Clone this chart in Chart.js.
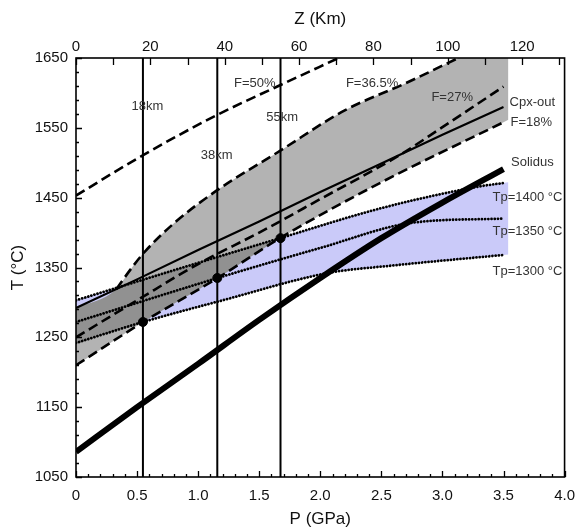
<!DOCTYPE html>
<html>
<head>
<meta charset="utf-8">
<script src="https://cdn.jsdelivr.net/npm/chart.js@4.4.1/dist/chart.umd.min.js"></script>
<style>
  html, body { margin: 0; padding: 0; background: #fff; }
  canvas { display: block; }
</style>
</head>
<body>
<canvas id="chart" width="585" height="530"></canvas>
<script>
// ==== Data (P in GPa, T in °C, Z in km) ====
const solidusP = [0, 0.5, 1, 1.5, 2, 2.5, 3, 3.5];
const solidusT = [1086, 1150, 1212, 1275, 1335, 1392, 1443, 1491];

const cpxOutP = [0, 0.5, 1, 1.5, 2, 2.5, 3, 3.5];
const cpxOutT = [1292, 1333, 1375, 1416, 1458, 1499, 1540, 1580];

const f18P = [0, 0.55, 1.16, 1.67, 2.5, 3.5];
const f18T = [1210, 1272, 1335, 1392, 1472, 1558];

const f27P = [0, 0.5, 1, 1.5, 2, 2.65, 3, 3.5];
const f27T = [1250, 1303, 1355, 1400, 1448, 1511, 1551, 1609];

const f365P = [0.33, 0.45, 0.55, 0.8, 1.15, 1.67, 2.2, 2.7, 3.13];
const f365T = [1319, 1348, 1370, 1413, 1460, 1517, 1575, 1614, 1650];

const f50P = [0, 0.55, 1.15, 1.67, 2.15];
const f50T = [1453, 1511, 1568, 1611, 1650];

const tp1400P = [0, 0.8, 1.67, 2.5, 3.3, 3.5];
const tp1400T = [1303, 1346, 1392, 1435, 1466, 1471];

const tp1350P = [0, 1.16, 2.0, 2.75, 3.5];
const tp1350T = [1272, 1335, 1378, 1414, 1420];

const tp1300P = [0, 0.55, 1.2, 2.06, 2.6, 3.5];
const tp1300T = [1242, 1272, 1303, 1342, 1353, 1368];

// depth markers (top axis) and the dots on them
const depthKm = [18, 38, 55];
const dotT = [1272, 1335, 1392];

// shaded fields stop a little right of the curves
const fillEndP = 3.54;

// text labels (P, T anchors)
const labelText = ['18km', '38km', '55km', 'F=50%', 'F=36.5%', 'F=27%', 'Cpx-out', 'F=18%', 'Solidus', 'Tp=1400 °C', 'Tp=1350 °C', 'Tp=1300 °C'];
const labelP = [0.584, 1.152, 1.688, 1.464, 2.424, 3.08, 3.736, 3.728, 3.736, 3.696, 3.696, 3.696];
const labelT = [1580, 1511, 1565, 1614, 1614, 1594, 1586, 1558, 1500, 1451, 1401, 1344];

// ==== helpers ====
const pts = (P, T) => P.map((p, i) => ({ x: p, y: T[i] }));
// carry the last segment on to the edge of the shaded field
function extended(P, T) {
  const n = P.length;
  const slope = (T[n - 1] - T[n - 2]) / (P[n - 1] - P[n - 2]);
  return pts(P, T).concat([{ x: fillEndP, y: T[n - 1] + slope * (fillEndP - P[n - 1]) }]);
}

const grayTop = [{ x: cpxOutP[0], y: cpxOutT[0] }].concat(extended(f365P, f365T));

// ==== plugins ====
// per-dataset blend mode, must run before the filler
const blendPlugin = {
  id: 'blend',
  beforeDatasetDraw(chart, args) {
    const mode = chart.data.datasets[args.index].blend;
    if (mode) { chart.ctx.save(); chart.ctx.globalCompositeOperation = mode; }
  },
  afterDatasetDraw(chart, args) {
    if (chart.data.datasets[args.index].blend) chart.ctx.restore();
  }
};
const filler = Chart.registry.getPlugin('filler');
Chart.unregister(filler);
Chart.register(blendPlugin, filler);

const framePlugin = {
  id: 'frame',
  beforeDraw(chart) {
    const ctx = chart.ctx;
    ctx.save();
    ctx.fillStyle = '#fff';
    ctx.fillRect(0, 0, chart.width, chart.height);
    ctx.restore();
  },
  afterDatasetsDraw(chart) {
    const ctx = chart.ctx;
    const sx = chart.scales.x, sy = chart.scales.y;
    ctx.save();
    ctx.fillStyle = '#333';
    ctx.font = '13px "Liberation Sans", Arial, sans-serif';
    ctx.textAlign = 'center';
    ctx.textBaseline = 'middle';
    labelText.forEach((t, i) => {
      ctx.fillText(t, sx.getPixelForValue(labelP[i]), sy.getPixelForValue(labelT[i]));
    });
    ctx.restore();
  },
  afterDraw(chart) {
    const ctx = chart.ctx;
    const a = chart.chartArea;
    const sx = chart.scales.x, sy = chart.scales.y, sz = chart.scales.x2;
    ctx.save();
    ctx.strokeStyle = '#000';
    ctx.lineWidth = 1.3;
    ctx.beginPath();
    // bottom: minor every 0.1, major every 0.5
    for (let i = 0; i <= 40; i++) {
      const x = Math.round(sx.getPixelForValue(i / 10)) + 0.5;
      const len = i % 5 === 0 ? 6 : 3;
      ctx.moveTo(x, a.bottom); ctx.lineTo(x, a.bottom - len);
    }
    // top: every 10 km
    for (let z = 0; z <= 130; z += 10) {
      const x = Math.round(sz.getPixelForValue(z)) + 0.5;
      ctx.moveTo(x, a.top); ctx.lineTo(x, a.top + 7);
    }
    // left: minor every 20, major every 100
    for (let t = 1050; t <= 1650; t += 20) {
      const y = Math.round(sy.getPixelForValue(t)) + 0.5;
      const len = (t - 1050) % 100 === 0 ? 6 : 3;
      ctx.moveTo(a.left, y); ctx.lineTo(a.left + len, y);
    }
    ctx.stroke();
    ctx.lineWidth = 1.6;
    ctx.strokeRect(a.left, a.top, a.right - a.left, a.bottom - a.top);
    ctx.restore();
  }
};

// ==== datasets ====
const dashed = { borderDash: [10, 5], borderWidth: 2.6 };
const dotted = { borderDash: [0.01, 3.2], borderWidth: 2.8, borderCapStyle: 'round' };

function curve(P, T, extra) {
  return Object.assign({
    data: pts(P, T),
    borderColor: '#000',
    borderWidth: 2,
    pointRadius: 0,
    fill: false,
    cubicInterpolationMode: 'monotone',
    order: 1
  }, extra);
}

const datasets = [
  // 0-1: blue Tp field
  { data: extended(tp1400P, tp1400T), borderWidth: 0, pointRadius: 0, fill: 1,
    backgroundColor: '#cacaf9', cubicInterpolationMode: 'monotone', order: 9 },
  { data: extended(tp1300P, tp1300T), borderWidth: 0, pointRadius: 0, fill: false,
    cubicInterpolationMode: 'monotone', order: 10 },
  // 2-4: gray melt field (desaturate, then multiply)
  { data: grayTop, borderWidth: 0, pointRadius: 0, fill: 4, backgroundColor: '#808080',
    blend: 'saturation', cubicInterpolationMode: 'monotone', order: 8 },
  { data: grayTop, borderWidth: 0, pointRadius: 0, fill: 4, backgroundColor: '#b3b3b3',
    blend: 'multiply', cubicInterpolationMode: 'monotone', order: 7 },
  { data: extended(f18P, f18T), borderWidth: 0, pointRadius: 0, fill: false,
    cubicInterpolationMode: 'monotone', order: 10 },
  // curves
  curve(tp1400P, tp1400T, dotted),
  curve(tp1350P, tp1350T, dotted),
  curve(tp1300P, tp1300T, dotted),
  curve(f50P, f50T, dashed),
  curve(f365P, f365T, dashed),
  curve(f27P, f27T, dashed),
  curve(f18P, f18T, dashed),
  curve(cpxOutP, cpxOutT, { borderWidth: 2.2, cubicInterpolationMode: 'default' }),
  curve(solidusP, solidusT, { borderWidth: 6 }),
  // depth markers on the Z axis
  ...depthKm.map(z => ({
    data: [{ x: z, y: 1050 }, { x: z, y: 1650 }], xAxisID: 'x2',
    borderColor: '#000', borderWidth: 2, pointRadius: 0, fill: false, order: 1
  })),
  { data: depthKm.map((z, i) => ({ x: z, y: dotT[i] })), xAxisID: 'x2', showLine: false,
    pointRadius: 4.5, pointBackgroundColor: '#000', pointBorderColor: '#000', order: 0 }
];

const tickFont = { family: '"Liberation Sans", Arial, sans-serif', size: 15 };
const titleFont = { family: '"Liberation Sans", Arial, sans-serif', size: 17 };

new Chart(document.getElementById('chart'), {
  type: 'line',
  data: { datasets },
  options: {
    responsive: false,
    animation: false,
    devicePixelRatio: 1,
    layout: { padding: { left: 0, right: 9, top: 0, bottom: 0 } },
    plugins: { legend: { display: false }, tooltip: { enabled: false } },
    scales: {
      x: {
        type: 'linear', position: 'bottom', min: 0, max: 4,
        grid: { display: false, drawTicks: false }, border: { display: false },
        ticks: { stepSize: 0.5, color: '#111', font: tickFont, padding: 10,
          callback: v => (v === 0 ? '0' : v.toFixed(1)) },
        title: { display: true, text: 'P (GPa)', color: '#111', font: titleFont, padding: { top: 0, bottom: 0 } },
        afterFit: s => { s.height = 53; }
      },
      x2: {
        type: 'linear', position: 'top', min: 0, max: 131.4,
        grid: { display: false, drawTicks: false }, border: { display: false },
        ticks: { stepSize: 20, includeBounds: false, color: '#111', font: tickFont, padding: 2,
          callback: v => String(v) },
        title: { display: true, text: 'Z (Km)', color: '#111', font: titleFont, padding: { top: 9, bottom: 0 } },
        afterFit: s => { s.height = 58; }
      },
      y: {
        type: 'linear', position: 'left', min: 1050, max: 1650,
        grid: { display: false, drawTicks: false }, border: { display: false },
        ticks: { stepSize: 100, color: '#111', font: tickFont, padding: 8,
          callback: v => String(v) },
        title: { display: true, text: 'T (°C)', color: '#111', font: titleFont, padding: { top: 8, bottom: 0 } },
        afterFit: s => { s.width = 76; }
      }
    }
  },
  plugins: [framePlugin]
});
</script>
</body>
</html>
